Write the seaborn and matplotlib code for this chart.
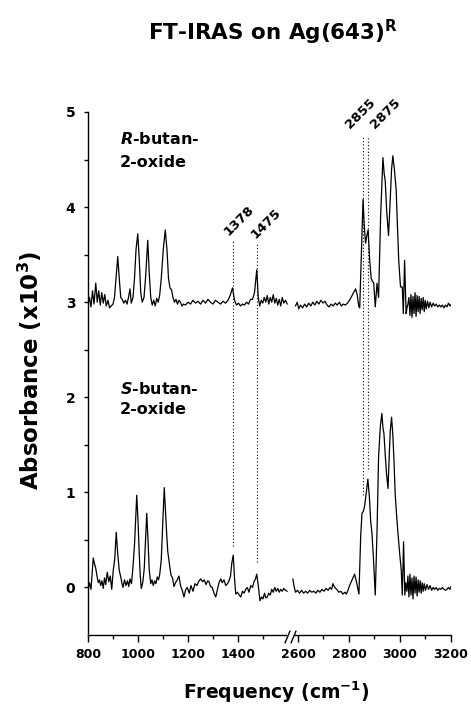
import numpy as np
import pandas as pd
import matplotlib
matplotlib.use('Agg')
import matplotlib.pyplot as plt
from matplotlib.lines import Line2D
from matplotlib.patches import Rectangle
import seaborn as sns

# ==== DATA ====
# R-butan-2-oxide, low-frequency window
r_low_freq = [800, 806, 812, 818, 824, 831, 837, 843, 849, 855, 861, 867, 873, 880, 886, 893,
              900, 906, 912, 919, 925, 931, 937, 943, 950, 956, 962, 968, 973, 980, 986, 992,
              999, 1005, 1011, 1017, 1024, 1030, 1039, 1045, 1051, 1057, 1063, 1069, 1075, 1081,
              1087, 1093, 1101, 1109, 1116, 1122, 1128, 1134, 1140, 1146, 1152, 1158, 1164, 1170,
              1176, 1182, 1190, 1200, 1210, 1220, 1230, 1240, 1250, 1260, 1270, 1280, 1290, 1300,
              1310, 1320, 1330, 1340, 1350, 1360, 1370, 1378, 1386, 1394, 1402, 1410, 1418, 1426,
              1434, 1442, 1450, 1458, 1466, 1475, 1481, 1487, 1493, 1499, 1505, 1511, 1517, 1523,
              1529, 1535, 1541, 1547, 1553, 1559, 1565, 1571, 1577, 1583, 1590, 1597]
r_low_abs = [2.97, 3.05, 2.95, 3.12, 2.98, 3.20, 3.00, 3.12, 2.97, 3.10, 2.99, 3.08, 2.96, 3.02, 2.94, 2.96,
             2.98, 3.05, 3.25, 3.48, 3.25, 3.05, 3.03, 2.99, 3.02, 2.98, 3.05, 3.14, 2.99, 3.05, 3.25, 3.55,
             3.72, 3.45, 3.10, 3.00, 3.05, 3.25, 3.65, 3.30, 3.05, 2.97, 3.02, 2.96, 3.04, 3.00,
             3.08, 3.25, 3.55, 3.76, 3.55, 3.25, 3.15, 3.13, 3.05, 3.00, 3.03, 2.98, 3.02, 3.00,
             2.96, 2.98, 2.97, 3.00, 2.98, 3.02, 2.99, 3.01, 2.98, 3.02, 2.99, 3.03, 3.00, 2.98,
             3.02, 3.00, 2.98, 3.01, 2.99, 3.02, 3.08, 3.15, 3.02, 2.97, 2.99, 2.96, 2.98, 2.97,
             3.00, 2.98, 3.03, 3.03, 3.10, 3.34, 3.05, 2.96, 3.02, 2.99, 3.05, 3.00, 3.07, 2.98,
             3.05, 3.00, 3.08, 2.99, 3.04, 2.97, 3.03, 2.96, 3.05, 2.99, 3.02, 2.98]

# R-butan-2-oxide, C-H stretch window
r_high_freq = [2590, 2597, 2603, 2610, 2618, 2626, 2634, 2642, 2650, 2658, 2666, 2674, 2682, 2690,
               2698, 2706, 2714, 2722, 2730, 2738, 2746, 2754, 2762, 2770, 2778, 2786, 2794, 2802,
               2810, 2818, 2826, 2832, 2838, 2842, 2849, 2855, 2860, 2865, 2870, 2875, 2881, 2887,
               2892, 2897, 2903, 2910, 2916, 2924, 2933, 2938, 2942, 2948, 2955, 2962, 2967, 2972,
               2978, 2985, 2990, 2995, 3002, 3009, 3013, 3018, 3024, 3028, 3031, 3035, 3039, 3043,
               3047, 3051, 3055, 3059, 3063, 3067, 3071, 3075, 3079, 3083, 3087, 3091, 3095, 3099,
               3103, 3108, 3113, 3118, 3124, 3130, 3136, 3142, 3148, 3154, 3160, 3166, 3172, 3178,
               3184, 3190, 3196, 3202]
r_high_abs = [2.96, 3.00, 2.93, 2.97, 2.94, 2.98, 2.95, 2.99, 2.96, 3.00, 2.97, 3.01, 2.98, 3.02,
              2.99, 3.01, 2.97, 2.95, 2.98, 2.96, 2.99, 2.97, 3.00, 2.96, 2.98, 2.97, 2.99, 3.02,
              3.06, 3.10, 3.14, 3.08, 2.96, 2.94, 3.55, 4.08, 3.80, 3.62, 3.70, 3.76, 3.45, 3.25,
              3.22, 3.20, 2.95, 3.20, 3.05, 3.90, 4.52, 4.35, 4.28, 3.95, 3.70, 4.10, 4.40, 4.54,
              4.40, 4.18, 3.80, 3.44, 3.16, 3.16, 2.88, 3.44, 2.88, 2.95, 2.98, 3.05, 2.86, 3.08,
              2.84, 3.06, 2.88, 3.10, 2.85, 3.07, 2.90, 3.06, 2.88, 3.04, 2.92, 3.05, 2.90, 3.02,
              2.93, 3.01, 2.94, 3.00, 2.95, 2.99, 2.96, 2.98, 2.95, 2.97, 2.95, 2.97, 2.94, 2.97,
              2.95, 2.99, 2.96, 2.98]

# S-butan-2-oxide, low-frequency window
s_low_freq = [800, 806, 812, 818, 821, 826, 831, 836, 841, 846, 851, 856, 861, 866, 871, 877,
              883, 889, 895, 901, 907, 913, 919, 925, 931, 936, 940, 946, 952, 958, 963, 968,
              974, 980, 986, 991, 995, 1000, 1005, 1009, 1013, 1019, 1025, 1030, 1035, 1040,
              1045, 1051, 1056, 1061, 1067, 1072, 1077, 1082, 1087, 1093, 1098, 1105, 1110, 1115,
              1119, 1124, 1128, 1132, 1138, 1144, 1150, 1157, 1164, 1170, 1177, 1184, 1190, 1197,
              1205, 1212, 1220, 1228, 1236, 1244, 1251, 1258, 1265, 1272, 1279, 1284, 1290, 1297,
              1304, 1311, 1318, 1324, 1331, 1337, 1344, 1351, 1358, 1364, 1370, 1375, 1381, 1386,
              1391, 1398, 1405, 1411, 1418, 1424, 1431, 1437, 1444, 1451, 1458, 1464, 1470, 1475,
              1481, 1488, 1494, 1500, 1506, 1511, 1517, 1523, 1529, 1535, 1541, 1547, 1553, 1559,
              1565, 1571, 1577, 1583, 1590, 1597]
s_low_abs = [-0.03, 0.05, -0.02, 0.20, 0.31, 0.25, 0.20, 0.12, 0.05, 0.08, 0.02, 0.07, -0.01, 0.10, 0.03, 0.16,
             0.06, 0.12, -0.02, 0.18, 0.30, 0.58, 0.35, 0.18, 0.11, 0.04, 0.00, 0.08, 0.02, 0.07, 0.01, 0.09,
             0.04, 0.22, 0.45, 0.75, 0.97, 0.70, 0.35, 0.12, -0.01, 0.05, 0.20, 0.50, 0.78, 0.50,
             0.18, 0.04, 0.08, 0.02, 0.07, 0.04, 0.11, 0.08, 0.14, 0.29, 0.60, 1.05, 0.80, 0.55,
             0.38, 0.28, 0.20, 0.13, 0.10, 0.01, 0.05, 0.08, 0.12, 0.02, -0.03, -0.10, -0.03, 0.00,
             -0.06, 0.02, -0.04, 0.04, 0.02, 0.07, 0.09, 0.06, 0.08, 0.03, 0.07, 0.06, 0.01, 0.00,
             -0.06, -0.10, -0.02, 0.05, 0.09, 0.05, 0.08, 0.02, 0.04, 0.07, 0.12, 0.25, 0.34, 0.10,
             -0.07, -0.05, -0.08, -0.10, -0.04, -0.06, -0.02, 0.00, -0.05, 0.02, 0.00, 0.06, 0.09, 0.14,
             0.02, -0.14, -0.10, -0.12, -0.06, -0.11, -0.10, -0.06, -0.08, -0.02, -0.05, 0.00, -0.04, -0.01,
             -0.05, -0.02, -0.04, -0.01, -0.03, -0.04]

# S-butan-2-oxide, C-H stretch window
s_high_freq = [2580, 2584, 2590, 2598, 2606, 2614, 2622, 2630, 2638, 2646, 2654, 2662, 2670, 2678,
               2686, 2694, 2702, 2710, 2718, 2726, 2732, 2737, 2744, 2752, 2760, 2768, 2776, 2784,
               2790, 2796, 2804, 2812, 2822, 2830, 2839, 2846, 2851, 2856, 2861, 2868, 2874, 2880,
               2885, 2890, 2896, 2903, 2910, 2916, 2923, 2929, 2933, 2937, 2942, 2947, 2953, 2958,
               2962, 2967, 2972, 2977, 2981, 2987, 2992, 2999, 3005, 3009, 3014, 3019, 3023, 3027,
               3031, 3035, 3039, 3043, 3047, 3051, 3055, 3059, 3063, 3067, 3071, 3075, 3079, 3083,
               3087, 3091, 3095, 3100, 3106, 3112, 3118, 3124, 3130, 3136, 3142, 3148, 3154, 3160,
               3166, 3172, 3178, 3184, 3190, 3196, 3200]
s_high_abs = [0.09, 0.02, -0.05, -0.03, -0.06, -0.03, -0.06, -0.04, -0.06, -0.03, -0.05, -0.04, -0.06, -0.03,
              -0.05, -0.02, -0.04, -0.01, -0.03, 0.00, -0.02, 0.04, 0.00, -0.02, -0.05, -0.04, -0.07, -0.05,
              -0.07, -0.03, 0.03, 0.08, 0.14, 0.05, -0.07, 0.55, 0.78, 0.80, 0.85, 1.00, 1.14, 0.95,
              0.70, 0.57, 0.30, -0.08, 0.60, 1.37, 1.70, 1.83, 1.68, 1.62, 1.40, 1.20, 1.04, 1.40,
              1.65, 1.79, 1.60, 1.30, 0.99, 0.75, 0.57, 0.35, 0.18, -0.08, 0.48, -0.08, 0.05, -0.04,
              0.12, -0.10, 0.14, -0.08, 0.10, -0.12, 0.12, -0.06, 0.11, -0.09, 0.08, -0.05, 0.07, -0.06,
              0.05, -0.04, 0.04, -0.03, 0.03, -0.02, 0.02, -0.03, 0.00, -0.02, 0.00, -0.03, -0.01, -0.02,
              0.00, -0.02, -0.03, -0.02, 0.00, -0.02, 0.01]

# marked bands: position, top and bottom of the dotted guide
low_bands = [1378, 1475]
low_band_top = [3.65, 3.62]
low_band_bottom = [0.44, 0.27]
high_bands = [2855, 2875]
high_band_top = [4.74, 4.74]
high_band_bottom = [0.97, 1.25]

# ==== STYLE ====
sns.set_style('ticks')
plt.rcParams['font.family'] = ['DejaVu Sans']
plt.rcParams['font.weight'] = 'bold'
plt.rcParams['text.color'] = 'black'
plt.rcParams['axes.edgecolor'] = 'black'
plt.rcParams['xtick.color'] = 'black'
plt.rcParams['ytick.color'] = 'black'
plt.rcParams['mathtext.fontset'] = 'custom'
plt.rcParams['mathtext.rm'] = 'DejaVu Sans:bold'
plt.rcParams['mathtext.it'] = 'DejaVu Sans:italic:bold'
plt.rcParams['mathtext.bf'] = 'DejaVu Sans:bold'

W, H = 471, 706
fig = plt.figure(figsize=(W / 100, H / 100), dpi=100)
ax1 = fig.add_axes([88 / W, 1 - 635 / H, 203 / W, 523 / H])
ax2 = fig.add_axes([291 / W, 1 - 635 / H, 160 / W, 523 / H], sharey=ax1)

# ==== SPECTRA ====
for ax, fr, ab in [(ax1, r_low_freq, r_low_abs), (ax1, s_low_freq, s_low_abs),
                   (ax2, r_high_freq, r_high_abs), (ax2, s_high_freq, s_high_abs)]:
    df = pd.DataFrame({'freq': fr, 'abs': ab})
    sns.lineplot(data=df, x='freq', y='abs', ax=ax, color='black', lw=0.9,
                 estimator=None, sort=False)

ax1.vlines(low_bands, low_band_bottom, low_band_top, colors='black',
           linestyles=(0, (1, 2)), lw=0.8)
ax2.vlines(high_bands, high_band_bottom, high_band_top, colors='black',
           linestyles=(0, (1, 2)), lw=0.8)

# ==== AXES ====
ax1.set_xlim(800, 1612)
ax2.set_xlim(2572.6, 3200)
ax1.set_ylim(-0.5, 5)

ax1.set_xticks([800, 1000, 1200, 1400])
ax1.set_xticks([900, 1100, 1300, 1500], minor=True)
ax2.set_xticks([2600, 2800, 3000, 3200])
ax2.set_xticks([2700, 2900, 3100], minor=True)
ax1.set_yticks([0, 1, 2, 3, 4, 5])
ax1.set_yticks([0.5, 1.5, 2.5, 3.5, 4.5], minor=True)

for ax in (ax1, ax2):
    ax.set_xlabel('')
    ax.set_ylabel('')
    ax.spines['top'].set_visible(False)
    ax.spines['right'].set_visible(False)
    ax.spines['bottom'].set_linewidth(1.0)
    ax.tick_params(axis='x', which='major', length=5, width=1.0, pad=4, labelsize=9)
    ax.tick_params(axis='x', which='minor', length=2.8, width=1.0)
ax1.spines['left'].set_linewidth(1.0)
ax1.tick_params(axis='y', which='both', length=3, width=1.0, pad=6, labelsize=10)
ax2.spines['left'].set_visible(False)
ax2.tick_params(axis='y', which='both', left=False, labelleft=False)
for lab in ax1.get_xticklabels() + ax2.get_xticklabels() + ax1.get_yticklabels():
    lab.set_fontweight('bold')

# axis break marks
fig.add_artist(Rectangle((287 / W, 1 - 637 / H), 8 / W, 4 / H, transform=fig.transFigure,
                         facecolor='white', edgecolor='none', zorder=5))
for dx in (0, 6):
    fig.add_artist(Line2D([(285 + dx) / W, (290 + dx) / W], [1 - 643 / H, 1 - 631 / H],
                          transform=fig.transFigure, color='black', lw=1.0, zorder=6))

# ==== TEXT ====
ax1.text(928, 4.66, r'$\it{R}$-butan-', fontsize=11.5, fontweight='bold', va='baseline')
ax1.text(928, 4.42, '2-oxide', fontsize=11.5, fontweight='bold', va='baseline')
ax1.text(928, 2.03, r'$\it{S}$-butan-', fontsize=11.5, fontweight='bold', va='baseline')
ax1.text(928, 1.82, '2-oxide', fontsize=11.5, fontweight='bold', va='baseline')

label_shift = [26, 36]
for b, t, s in zip(low_bands, low_band_top, label_shift):
    ax1.text(b + s, t + 0.02, str(b), rotation=45, ha='center', va='bottom',
             fontsize=9.5, fontweight='bold')
ax2.text(2845, 4.80, '2855', rotation=45, ha='center', va='bottom', fontsize=9.5, fontweight='bold')
ax2.text(2942, 4.80, '2875', rotation=45, ha='center', va='bottom', fontsize=9.5, fontweight='bold')

fig.text(273 / W, 1 - 40 / H, r'FT-IRAS on Ag(643)$^{\rm R}$', fontsize=15.5,
         fontweight='bold', ha='center', va='baseline')
fig.text(30 / W, 1 - 370 / H, r'Absorbance (x10$^{3}$)', fontsize=16.5, fontweight='bold',
         rotation=90, ha='center', va='center')
fig.text(276 / W, 1 - 699 / H, r'Frequency (cm$^{-1}$)', fontsize=13.5, fontweight='bold',
         ha='center', va='baseline')

fig.savefig('out.png', dpi=100)
